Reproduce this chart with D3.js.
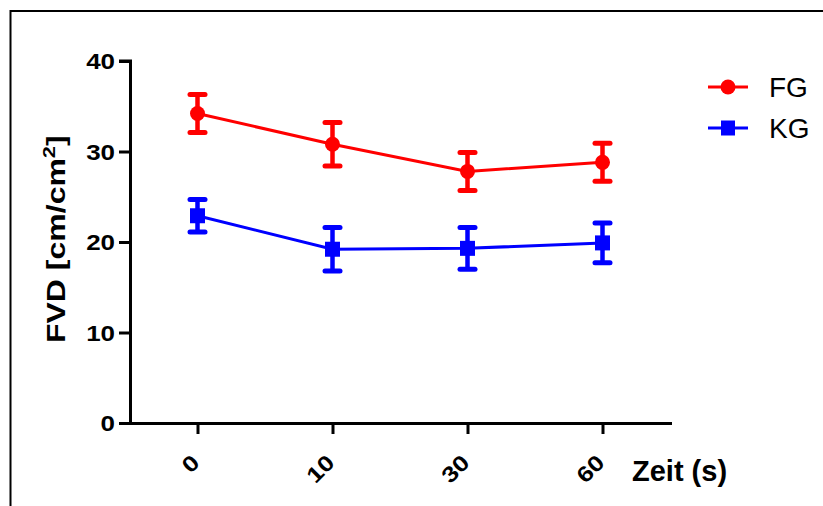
<!DOCTYPE html>
<html>
<head>
<meta charset="utf-8">
<script src="https://cdn.jsdelivr.net/npm/d3@7"></script>
<style>
	body { margin: 0; background: #fff; }
	svg { display: block; font-family: "Liberation Sans", Arial, sans-serif; }
</style>
</head>
<body>
<svg id="chart" width="823" height="506"></svg>
<script>
var times = ["0", "10", "30", "60"];
var fgMean = [34.2, 30.8, 27.8, 28.8];
var fgErr = [2.1, 2.4, 2.1, 2.1];
var kgMean = [22.9, 19.2, 19.3, 19.9];
var kgErr = [1.8, 2.4, 2.3, 2.2];
var yTicks = [0, 10, 20, 30, 40];

var svg = d3.select("#chart"),
	x = d3.scalePoint().domain(times).range([130, 670]).padding(0.5),
	y = d3.scaleLinear().domain([0, 40]).range([423, 61]);

// frame
svg.append("path")
	.attr("d", "M10.5,506V11H823")
	.attr("fill", "none")
	.attr("stroke", "#000")
	.attr("stroke-width", 2);

var series = [
	{name: "FG", mean: fgMean, err: fgErr, color: "#ff0000", shape: "circle"},
	{name: "KG", mean: kgMean, err: kgErr, color: "#0000ff", shape: "square"}
];

// axes
var yAxis = svg.append("g")
	.attr("transform", "translate(130,0)")
	.call(d3.axisLeft(y).tickValues(yTicks).tickSize(11).tickPadding(3));
var xAxis = svg.append("g")
	.attr("transform", "translate(0,423)")
	.call(d3.axisBottom(x).tickSize(11).tickSizeOuter(0));

[yAxis, xAxis].forEach(function(a) {
	a.select(".domain").attr("stroke-width", 3);
	a.selectAll(".tick line").attr("stroke-width", 3);
	a.selectAll("text")
		.attr("font-family", "Liberation Sans, Arial, sans-serif")
		.attr("font-weight", "bold")
		.attr("font-size", 22)
		.attr("fill", "#000");
});
yAxis.select(".domain").attr("d", "M-11,423.5H0.5V61H-11");
xAxis.select(".domain").attr("d", "M128.5,0.5H672");
yAxis.selectAll("text")
	.attr("x", null)
	.attr("dy", "0.36em")
	.attr("transform", "translate(-15,0) scale(1.18,1)");
xAxis.selectAll("text")
	.attr("text-anchor", "end")
	.attr("dy", null)
	.attr("y", 0)
	.attr("transform", "translate(3,41) rotate(-45) scale(1.18,1)");

svg.append("text")
	.attr("x", 632).attr("y", 481)
	.attr("font-weight", "bold").attr("font-size", 29)
	.text("Zeit (s)");

var yl = svg.append("text")
	.attr("transform", "translate(65,343) rotate(-90) scale(1.28,1)")
	.attr("font-weight", "bold").attr("font-size", 25);
yl.append("tspan").text("FVD [cm/cm");
yl.append("tspan").attr("font-size", 17).attr("dy", -10).text("2");
yl.append("tspan").attr("dy", 10).text("]");

var line = d3.line()
	.x(function(d, i) { return x(times[i]); })
	.y(function(d) { return y(d); });

series.forEach(function(s) {
	var g = svg.append("g");
	g.append("path")
		.attr("d", line(s.mean))
		.attr("fill", "none")
		.attr("stroke", s.color)
		.attr("stroke-width", 3);
	var eb = g.selectAll(".eb")
		.data(s.mean)
		.enter().append("g");
	eb.append("line")
		.attr("x1", function(d, i) { return x(times[i]); })
		.attr("x2", function(d, i) { return x(times[i]); })
		.attr("y1", function(d, i) { return y(d + s.err[i]); })
		.attr("y2", function(d, i) { return y(d - s.err[i]); })
		.attr("stroke", s.color).attr("stroke-width", 4.5);
	[1, -1].forEach(function(sign) {
		eb.append("line")
			.attr("x1", function(d, i) { return x(times[i]) - 7.5; })
			.attr("x2", function(d, i) { return x(times[i]) + 7.5; })
			.attr("y1", function(d, i) { return y(d + sign * s.err[i]); })
			.attr("y2", function(d, i) { return y(d + sign * s.err[i]); })
			.attr("stroke", s.color).attr("stroke-width", 5)
			.attr("stroke-linecap", "round");
	});
	if (s.shape == "circle") {
		eb.append("circle")
			.attr("cx", function(d, i) { return x(times[i]); })
			.attr("cy", function(d) { return y(d); })
			.attr("r", 7.5)
			.attr("fill", s.color);
	} else {
		eb.append("rect")
			.attr("x", function(d, i) { return x(times[i]) - 7.5; })
			.attr("y", function(d) { return y(d) - 7.5; })
			.attr("width", 15).attr("height", 15)
			.attr("fill", s.color);
	}
});

// legend
var leg = svg.selectAll(".leg")
	.data(series)
	.enter().append("g")
	.attr("transform", function(d, i) { return "translate(708," + (87 + i * 41) + ")"; });
leg.append("line")
	.attr("x1", 0).attr("x2", 40)
	.attr("stroke", function(d) { return d.color; })
	.attr("stroke-width", 3);
leg.filter(function(d) { return d.shape == "circle"; }).append("circle")
	.attr("cx", 20).attr("r", 7.5)
	.attr("fill", function(d) { return d.color; });
leg.filter(function(d) { return d.shape == "square"; }).append("rect")
	.attr("x", 13).attr("y", -7.5).attr("width", 14).attr("height", 15)
	.attr("fill", function(d) { return d.color; });
leg.append("text")
	.attr("x", 61).attr("y", 10)
	.attr("font-size", 28)
	.text(function(d) { return d.name; });
</script>
</body>
</html>
